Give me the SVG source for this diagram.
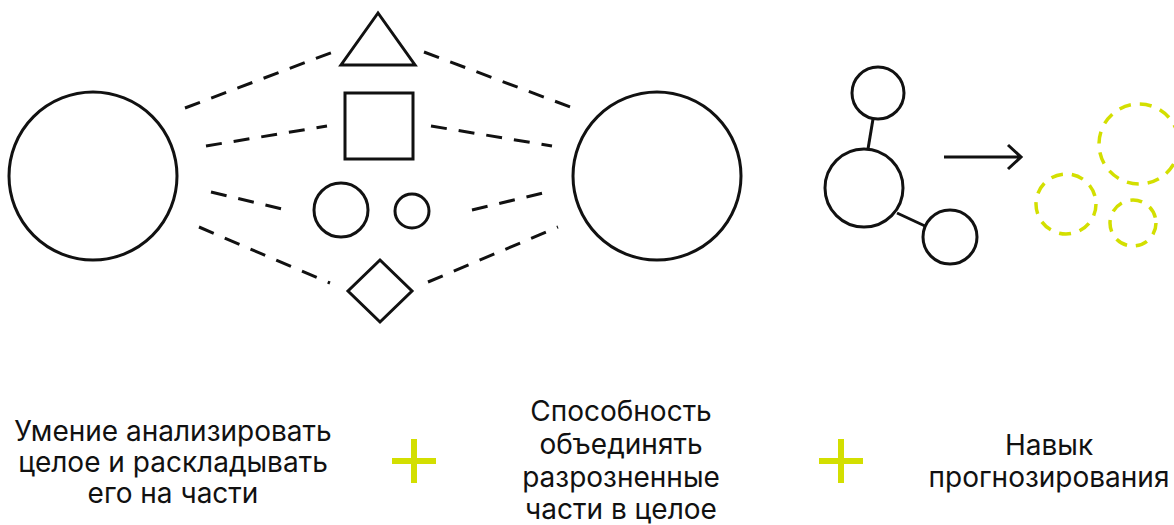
<svg xmlns="http://www.w3.org/2000/svg" width="1174" height="525" viewBox="0 0 1174 525">
<defs>
<style>
.s{fill:none;stroke:#111;stroke-width:3}
.d{fill:none;stroke:#111;stroke-width:3;stroke-dasharray:16 12}
.y{fill:none;stroke:#d3df00;stroke-width:3.5;stroke-dasharray:12 9}
.p{fill:none;stroke:#d3df00;stroke-width:6}
.t{font-family:Inter,"Liberation Sans",sans-serif;font-size:28px;fill:#111;text-anchor:middle}
</style>
</defs>
<rect width="1174" height="525" fill="#fff"/>
<g id="connectors">
<line class="d" x1="185" y1="108" x2="333" y2="52"/>
<line class="d" x1="206" y1="146" x2="327" y2="126"/>
<line class="d" x1="211" y1="192" x2="286" y2="210"/>
<line class="d" x1="199" y1="227" x2="330" y2="283"/>
<line class="d" x1="424" y1="52" x2="573" y2="108"/>
<line class="d" x1="431" y1="126" x2="552" y2="146"/>
<line class="d" x1="472" y1="210" x2="547" y2="192"/>
<line class="d" x1="428" y1="282" x2="558" y2="227"/>
<line class="s" x1="873" y1="119" x2="868" y2="149"/>
<line class="s" x1="897" y1="213" x2="925" y2="226"/>
<path class="s" d="M944 157H1021M1008 145L1021 157L1008 169"/>
</g>
<g id="whole-left"><circle class="s" cx="93" cy="176" r="84"/></g>
<g id="triangle"><polygon class="s" points="378,13 341,65 415,65"/></g>
<g id="square"><rect class="s" x="345" y="93" width="68" height="66"/></g>
<g id="circle-mid"><circle class="s" cx="341" cy="210" r="27"/></g>
<g id="circle-small"><circle class="s" cx="412" cy="211" r="17"/></g>
<g id="diamond"><polygon class="s" points="380,260 412,291 380,322 348,291"/></g>
<g id="whole-right"><circle class="s" cx="657" cy="176" r="84"/></g>
<g id="node-top"><circle class="s" cx="878" cy="93" r="26"/></g>
<g id="node-center"><circle class="s" cx="864" cy="188" r="39"/></g>
<g id="node-bottom"><circle class="s" cx="950" cy="237" r="27"/></g>
<g id="forecast">
<circle class="y" cx="1139" cy="144" r="40"/>
<circle class="y" cx="1066" cy="204" r="30"/>
<circle class="y" cx="1133" cy="223" r="23"/>
</g>
<g id="plus1"><path class="p" d="M392 461H436M414 439V483"/></g>
<g id="plus2"><path class="p" d="M819 461H863M841 439V483"/></g>
<g id="label-analysis">
<text class="t" x="173" y="441">Умение анализировать</text>
<text class="t" x="173" y="472">целое и раскладывать</text>
<text class="t" x="173" y="503">его на части</text>
</g>
<g id="label-synthesis">
<text class="t" x="621" y="421">Способность</text>
<text class="t" x="621" y="454">объединять</text>
<text class="t" x="621" y="487">разрозненные</text>
<text class="t" x="621" y="519">части в целое</text>
</g>
<g id="label-forecast">
<text class="t" x="1049" y="455">Навык</text>
<text class="t" x="1049" y="487">прогнозирования</text>
</g>
</svg>
